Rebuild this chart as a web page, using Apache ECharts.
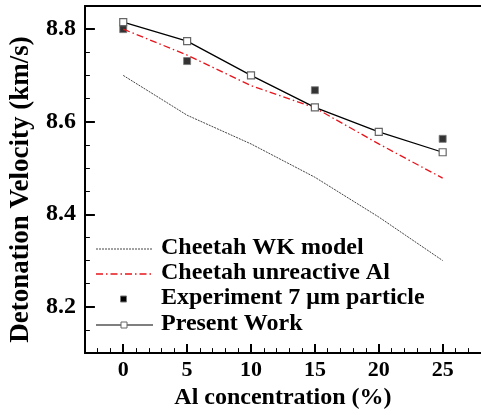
<!DOCTYPE html>
<html>
<head>
<meta charset="utf-8">
<script src="https://cdn.jsdelivr.net/npm/echarts@6/dist/echarts.min.js"></script>
<style>
  html, body { margin: 0; padding: 0; background: #fff; }
  #main { width: 481px; height: 415px; }
</style>
</head>
<body>
<div id="main"></div>
<script>
// Al concentration (%)
var alPct = [0, 5, 10, 15, 20, 25];
var expPct = [0, 5, 15, 25];
// detonation velocity (km/s)
var cheetahWK = [8.70, 8.614, 8.552, 8.48, 8.394, 8.30];
var cheetahUnreactive = [8.80, 8.744, 8.678, 8.630, 8.552, 8.478];
var experiment = [8.80, 8.731, 8.668, 8.563];
var presentWork = [8.815, 8.774, 8.70, 8.631, 8.578, 8.534];
// tick labels
var xTicks = [0, 5, 10, 15, 20, 25];
var yTicks = [8.2, 8.4, 8.6, 8.8];
var seriesNames = ['Cheetah WK model', 'Cheetah unreactive Al', 'Experiment 7 \u03bcm particle', 'Present Work'];

var serif = "'Liberation Serif', 'DejaVu Serif', serif";
var wkStyle = { color: '#444', width: 1, type: [2, 1] };
var redStyle = { color: '#e8141c', width: 1.3, type: [7, 3, 1.5, 3] };

function pairs(xs, ys) {
    var out = [];
    for (var i = 0; i < xs.length; i++) out.push([xs[i], ys[i]]);
    return out;
}

// legend drawn by hand, rows 25px apart
function legendGraphics() {
    var x0 = 96, x1 = 153, tx = 161, rows = [249, 274, 299, 325];
    var g = [];
    g.push({ type: 'line', shape: { x1: x0, y1: rows[0], x2: x1, y2: rows[0] },
        style: { stroke: wkStyle.color, lineWidth: 1, lineDash: wkStyle.type } });
    g.push({ type: 'line', shape: { x1: x0, y1: rows[1], x2: x1, y2: rows[1] },
        style: { stroke: redStyle.color, lineWidth: 1.3, lineDash: redStyle.type } });
    g.push({ type: 'rect', shape: { x: 120.5, y: rows[2] - 3, width: 6, height: 6 },
        style: { fill: '#000', stroke: '#777', lineWidth: 1 } });
    g.push({ type: 'line', shape: { x1: x0, y1: rows[3], x2: x1, y2: rows[3] },
        style: { stroke: '#555', lineWidth: 1.3 } });
    g.push({ type: 'rect', shape: { x: 121, y: rows[3] - 3, width: 6, height: 6 }, z: 101,
        style: { fill: '#fff', stroke: '#666', lineWidth: 1 } });
    for (var i = 0; i < seriesNames.length; i++) {
        g.push({ type: 'text', x: tx, y: rows[i] - 1, z: 101,
            style: { text: seriesNames[i], font: 'bold 24px ' + serif, fill: '#000', verticalAlign: 'middle' } });
    }
    return g;
}

var chart = echarts.init(document.getElementById('main'));

var option = {
    animation: false,
    backgroundColor: '#fff',
    grid: { left: 83, top: 6, width: 400, height: 355, containLabel: false },
    graphic: legendGraphics(),
    xAxis: [
        {
            type: 'value', position: 'bottom', min: -3, max: 28,
            name: 'Al concentration (%)', nameLocation: 'middle', nameGap: 28,
            nameTextStyle: { fontFamily: serif, fontWeight: 'bold', fontSize: 24, color: '#000' },
            axisLine: { show: true, onZero: false, lineStyle: { color: '#000', width: 2 } },
            axisTick: { show: true, inside: true, length: 9, customValues: xTicks, lineStyle: { color: '#000', width: 2 } },
            axisLabel: { customValues: xTicks, margin: 6, fontFamily: serif, fontWeight: 'bold', fontSize: 22, color: '#000' },
            splitLine: { show: false }
        },
        {
            type: 'value', position: 'bottom', min: -3, max: 28, interval: 1,
            axisLine: { show: false, onZero: false },
            axisTick: { show: true, inside: true, length: 5, lineStyle: { color: '#000', width: 1 } },
            axisLabel: { show: false },
            splitLine: { show: false }
        },
        {
            type: 'value', position: 'top', min: -3, max: 28,
            axisLine: { show: true, onZero: false, lineStyle: { color: '#000', width: 2 } },
            axisTick: { show: false },
            axisLabel: { show: false },
            splitLine: { show: false }
        }
    ],
    yAxis: [
        {
            type: 'value', position: 'left', min: 8.1, max: 8.85,
            name: 'Detonation Velocity (km/s)', nameLocation: 'middle', nameGap: 47,
            nameTextStyle: { fontFamily: serif, fontWeight: 'bold', fontSize: 27, color: '#000', padding: [0, 20, 0, 0] },
            axisLine: { show: true, onZero: false, lineStyle: { color: '#000', width: 2 } },
            axisTick: { show: true, inside: true, length: 10, customValues: yTicks, lineStyle: { color: '#000', width: 2 } },
            axisLabel: {
                customValues: yTicks, margin: 9, fontFamily: serif, fontWeight: 'bold', fontSize: 24, color: '#000',
                formatter: function (v) { return v.toFixed(1); }
            },
            splitLine: { show: false }
        },
        {
            type: 'value', position: 'left', min: 8.1, max: 8.85, interval: 0.05,
            axisLine: { show: false, onZero: false },
            axisTick: { show: true, inside: true, length: 5, lineStyle: { color: '#000', width: 1 } },
            axisLabel: { show: false },
            splitLine: { show: false }
        }
    ],
    series: [
        {
            name: seriesNames[0], type: 'line', xAxisIndex: 0, yAxisIndex: 0,
            data: pairs(alPct, cheetahWK), symbol: 'none',
            lineStyle: wkStyle
        },
        {
            name: seriesNames[1], type: 'line', xAxisIndex: 0, yAxisIndex: 0,
            data: pairs(alPct, cheetahUnreactive), symbol: 'none',
            lineStyle: redStyle
        },
        {
            name: seriesNames[2], type: 'scatter', xAxisIndex: 0, yAxisIndex: 0,
            data: pairs(expPct, experiment), symbol: 'rect', symbolSize: 7,
            itemStyle: { color: '#000', borderColor: '#777', borderWidth: 1 }
        },
        {
            name: seriesNames[3], type: 'line', xAxisIndex: 0, yAxisIndex: 0,
            data: pairs(alPct, presentWork), symbol: 'rect', symbolSize: 7, showAllSymbol: true,
            lineStyle: { color: '#000', width: 1.3 },
            itemStyle: { color: '#fff', borderColor: '#666', borderWidth: 1.2 }
        }
    ]
};

chart.setOption(option);
window.onresize = chart.resize;
</script>
</body>
</html>
